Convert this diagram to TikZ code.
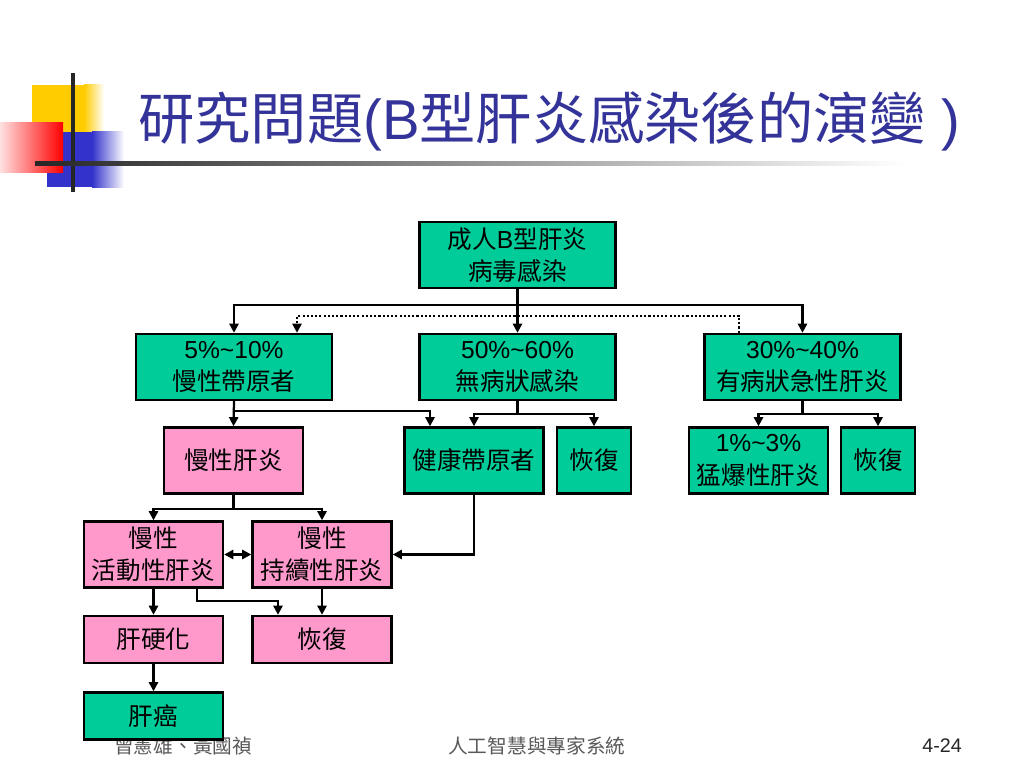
\documentclass[tikz,border=0pt]{standalone}
\usepackage{fontspec}
\setmainfont{Liberation Sans}
\newfontfamily\cjk{Noto Sans CJK TC}
\newfontfamily\arial{Liberation Sans}
\usepackage{tikz}
\usetikzlibrary{
    arrows.meta,
    positioning,
    calc
}
\definecolor{verde}{RGB}{0,204,153}
\definecolor{rosa}{RGB}{255,153,204}
\definecolor{titulo}{RGB}{51,51,153}
\definecolor{amarillo}{RGB}{255,204,0}
\definecolor{azul}{RGB}{51,51,204}
\tikzstyle{caja} = [draw, line width=1.7pt, align=center, inner sep=0pt, font=\cjk\fontsize{17.5}{23}\selectfont]
\tikzstyle{cverde} = [caja, fill=verde]
\tikzstyle{crosa} = [caja, fill=rosa]
\tikzstyle{flecha} = [-{Triangle[length=6.5pt,width=6.5pt]}, line width=1.6pt]
\tikzstyle{pie} = [inner sep=0pt, text=black!65, font=\cjk\fontsize{14}{16}\selectfont]
\newcommand{\lat}[1]{{\arial #1}}
\newcommand{\tild}{\textasciitilde}

\begin{document}
\begin{tikzpicture}[x=0.025cm, y=-0.025cm]

\def\Wg{4.9cm}
\def\Wm{3.475cm}
\def\Ws{1.85cm}
\def\Ha{1.65cm}
\def\Hb{1.175cm}

\useasboundingbox (0,0) rectangle (1024,768);

% Adorno
\fill[amarillo] (32,85) rectangle (84,132);
\shade[left color=amarillo, right color=white] (84,85) rectangle (104,132);
\fill[azul] (47,132) rectangle (92,187);
\shade[left color=azul, right color=white] (92,132) rectangle (124,187);
\shade[left color=red!12, right color=red] (0,123) rectangle (63,172);
\draw[line width=2.5pt, black!85] (73,73) -- (73,192);
\shade[left color=black!85, right color=white] (35,162) rectangle (905,166);

% Titulo
\node[anchor=west, inner sep=0pt, text=titulo, font=\cjk\fontsize{40}{44}\selectfont] (titulo) at (138,121) {研究問題\lat{(B}型肝炎感染後的演變\lat{ )}};

% Pie
\node[pie, anchor=west] (autores) at (114,746) {曾憲雄、黃國禎};
\node[pie, anchor=west] (curso) at (448,746) {人工智慧與專家系統};
\node[pie, anchor=east, text=black!85, font=\arial\fontsize{14}{16}\selectfont] (pagina) at (962,746) {4-24};

% Cajas
\node[cverde, minimum width=\Wg, minimum height=\Ha] (infeccion) at (517.5,255) {成人\lat{B}型肝炎\\病毒感染};
\node[cverde, minimum width=\Wg, minimum height=\Ha] (portador) at (234,367) {\lat{5\%\tild10\%}\\慢性帶原者};
\node[cverde, minimum width=\Wg, minimum height=\Ha] (asintom) at (517.5,367) {\lat{50\%\tild60\%}\\無病狀感染};
\node[cverde, minimum width=\Wg, minimum height=\Ha] (agudo) at (802.5,367) {\lat{30\%\tild40\%}\\有病狀急性肝炎};

\node[crosa, minimum width=\Wm, minimum height=\Ha] (cronica) at (233.5,460.5) {慢性肝炎};
\node[cverde, minimum width=\Wm, minimum height=\Ha] (sano) at (474,460.5) {健康帶原者};
\node[cverde, minimum width=\Ws, minimum height=\Ha] (recup1) at (594,460.5) {恢復};
\node[cverde, minimum width=\Wm, minimum height=\Ha] (fulminante) at (758.5,460.5) {\lat{1\%\tild3\%}\\猛爆性肝炎};
\node[cverde, minimum width=\Ws, minimum height=\Ha] (recup2) at (878,460.5) {恢復};

\node[crosa, minimum width=\Wm, minimum height=\Ha] (activa) at (153.5,554.5) {慢性\\活動性肝炎};
\node[crosa, minimum width=\Wm, minimum height=\Ha] (persist) at (322,554.5) {慢性\\持續性肝炎};
\node[crosa, minimum width=\Wm, minimum height=\Hb] (cirrosis) at (153.5,639.5) {肝硬化};
\node[crosa, minimum width=\Wm, minimum height=\Hb] (recup3) at (322,639.5) {恢復};
\node[cverde, minimum width=\Wm, minimum height=\Hb] (cancer) at (153.5,716) {肝癌};

% Flechas
\coordinate (r1) at (517.5,305);
\draw[flecha] (infeccion.south) -- (asintom.north);
\draw[flecha] (r1) -| (portador.north);
\draw[flecha] (r1) -| (agudo.north);
\draw[flecha, dash pattern=on 1.5pt off 1.5pt] ($(agudo.north)+(-63.5,0)$) -- ++(0,-17) -| ($(portador.north)+(63,0)$);

\draw[flecha] (portador.south) -- (cronica.north);
\draw[flecha] (portador.south) -- ++(0,10) -| ($(sano.north)+(-44,0)$);
\draw[flecha] (asintom.south) -- ++(0,13) -| (sano.north);
\draw[flecha] (asintom.south) -- ++(0,13) -| (recup1.north);
\draw[flecha] (agudo.south) -- ++(0,13) -| (fulminante.north);
\draw[flecha] (agudo.south) -- ++(0,13) -| (recup2.north);

\draw[flecha] (cronica.south) -- ++(0,14) -| (activa.north);
\draw[flecha] (cronica.south) -- ++(0,14) -| (persist.north);
\draw[flecha, {Triangle[length=6.5pt,width=6.5pt]}-{Triangle[length=6.5pt,width=6.5pt]}] (activa.east) -- (persist.west);
\draw[flecha] (sano.south) |- (persist.east);

\draw[flecha] (activa.south) -- (cirrosis.north);
\draw[flecha] ($(activa.south)+(43.5,0)$) -- ++(0,12) -| ($(recup3.north)+(-44,0)$);
\draw[flecha] (persist.south) -- (recup3.north);
\draw[flecha] (cirrosis.south) -- (cancer.north);

\end{tikzpicture}
\end{document}
